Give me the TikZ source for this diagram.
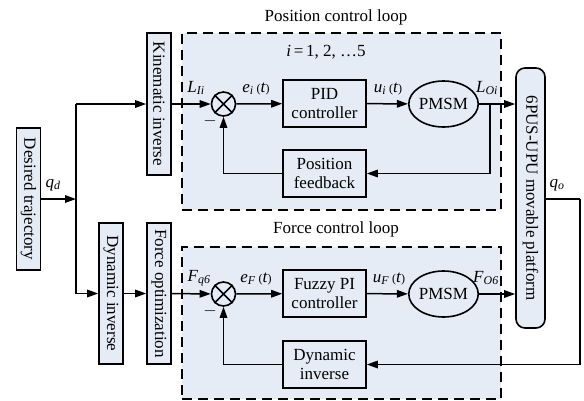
\documentclass[tikz,border=0pt]{standalone}
\usepackage{fontspec}
\setmainfont{Liberation Serif}
\usetikzlibrary{arrows.meta,shapes.geometric}
\definecolor{panel}{RGB}{230,236,246}
\newcommand{\vsym}[2]{\textit{#1}\textsubscript{\textit{#2}}}
\newcommand{\tfun}{\,\raisebox{-0.5pt}{\large(}\textit{t}\raisebox{-0.5pt}{\large)}}
\begin{document}
\begin{tikzpicture}[x=1pt,y=-1pt,
  font=\fontsize{17}{19}\selectfont,
  blk/.style={draw, line width=1.6pt, fill=panel, inner sep=1pt, align=center},
  hblk/.style={blk, minimum width=83pt, minimum height=47pt},
  vblk/.style={blk, rotate=-90, minimum height=24pt},
  loopbox/.style={draw, dash pattern=on 10pt off 6pt, line width=1.6pt, fill=panel, inner sep=0pt},
  sumpt/.style={circle, draw, line width=1.6pt, minimum size=24pt, inner sep=0pt},
  motor/.style={ellipse, draw, line width=1.6pt, minimum width=60pt, minimum height=46pt, inner sep=0pt},
  wire/.style={line width=1.5pt},
  arr/.style={wire, -{Triangle[length=11pt,width=7.5pt]}},
  lbl/.style={inner sep=0pt}
]
\useasboundingbox (0,0) rectangle (584,400);

% dashed loop panels
\node[loopbox, minimum width=319pt, minimum height=177pt] (posloop) at (341.5,121.5) {};
\node[loopbox, minimum width=319pt, minimum height=152pt] (forloop) at (341.5,323) {};
\node[lbl] (postitle) at (336,17) {Position control loop};
\node[lbl] (fortitle) at (336,229) {Force control loop};
\node[lbl] (range) at (326,52) {\textit{i}\,=\,1, 2, …5};

% vertical blocks
\node[vblk, minimum width=142pt] (des) at (28.5,199) {Desired trajectory};
\node[vblk, minimum width=142pt] (kin) at (159,104) {Kinematic inverse};
\node[vblk, minimum width=141pt] (dyn) at (111,293.5) {Dynamic inverse};
\node[vblk, minimum width=141pt] (fopt) at (159,293.5) {Force optimization};
\node[vblk, minimum width=260pt, minimum height=29pt, rounded corners=9pt] (plat) at (530.5,198) {6PUS-UPU movable platform};

% position loop
\node[sumpt] (sum1) at (223.5,104) {};
\draw[wire] (sum1.north west) -- (sum1.south east) (sum1.north east) -- (sum1.south west);
\node[hblk] (pid) at (324.5,103.5) {PID\\controller};
\node[motor] (pm1) at (443.5,104) {PMSM};
\node[hblk] (pfb) at (324.5,173.5) {Position\\feedback};

% force loop
\node[sumpt] (sum2) at (223.5,294) {};
\draw[wire] (sum2.north west) -- (sum2.south east) (sum2.north east) -- (sum2.south west);
\node[hblk] (fz) at (324.5,293.5) {Fuzzy PI\\controller};
\node[motor] (pm2) at (443.5,294) {PMSM};
\node[hblk] (dfb) at (324.5,364.5) {Dynamic\\inverse};

% branch points
\coordinate (qd) at (76,199);
\coordinate (tap1) at (490,104);
\coordinate (qo) at (580,199);

% reference distribution
\draw[arr] (des) -- (qd);
\draw[wire] (qd |- kin) -- (qd |- dyn);
\draw[arr] (qd |- kin) -- (kin);
\draw[arr] (qd |- dyn) -- (dyn);
\draw[arr] (dyn) -- (fopt);

% position loop signals
\draw[arr] (kin) -- (sum1);
\draw[arr] (sum1) -- (pid);
\draw[arr] (pid) -- (pm1);
\draw[arr] (pm1) -- (pm1 -| plat.south);
\draw[arr] (tap1) |- (pfb);
\draw[arr] (pfb) -| (sum1);

% force loop signals
\draw[arr] (fopt) -- (sum2);
\draw[arr] (sum2) -- (fz);
\draw[arr] (fz) -- (pm2);
\draw[arr] (pm2) -- (pm2 -| plat.south);
\draw[wire] (qo -| plat.north) -- (qo);
\draw[arr] (qo) |- (dfb);
\draw[arr] (dfb) -| (sum2);

% signal labels
\node[lbl] (lqd) at (53,185) {\vsym{q}{d}};
\node[lbl] (lqo) at (557,185) {\vsym{q}{o}};
\node[lbl] (lli) at (196,88) {\vsym{L}{Ii}};
\node[lbl] (lei) at (256,89) {\vsym{e}{i}\tfun};
\node[lbl] (lui) at (388,89) {\vsym{u}{i}\tfun};
\node[lbl] (llo) at (487,88) {\vsym{L}{Oi}};
\node[lbl] (lm1) at (210,121) {$-$};
\node[lbl] (lfq) at (199,278) {\vsym{F}{q6}};
\node[lbl] (lef) at (256,279) {\vsym{e}{F}\tfun};
\node[lbl] (luf) at (389,279) {\vsym{u}{F}\tfun};
\node[lbl] (lfo) at (486,278) {\vsym{F}{O6}};
\node[lbl] (lm2) at (210,311) {$-$};
\end{tikzpicture}
\end{document}
